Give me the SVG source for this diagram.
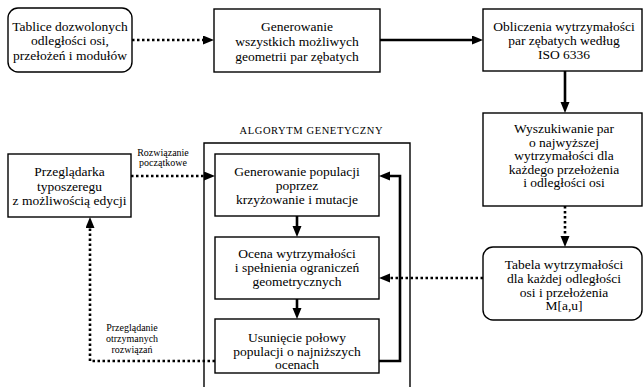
<svg xmlns="http://www.w3.org/2000/svg" width="643" height="387" viewBox="0 0 643 387">
<defs>
<marker id="ah" markerUnits="userSpaceOnUse" markerWidth="12" markerHeight="10" refX="2" refY="4.5" orient="auto">
<path d="M0,0 L11,4.5 L0,9 z" fill="#000"/>
</marker>
</defs>
<rect x="0" y="0" width="643" height="387" fill="#fff"/>

<g id="outer">
<path d="M204,390 V143 H410 V390" fill="none" stroke="#000" stroke-width="1.4"/>
<text x="311" y="134" font-family="Liberation Serif" font-size="10.5" text-anchor="middle" textLength="143" lengthAdjust="spacing">ALGORYTM  GENETYCZNY</text>
</g>

<g font-family="Liberation Serif" font-size="13.5" text-anchor="middle" fill="#000">
<g id="n1">
<rect fill="#fff" stroke="#000" stroke-width="1.4" x="8" y="8" width="124" height="64" rx="10"/>
<text x="70" y="30.5">Tablice dozwolonych</text>
<text x="70" y="45">odległości osi,</text>
<text x="70" y="60">przełożeń i modułów</text>
</g>
<g id="n2">
<rect fill="#fff" stroke="#000" stroke-width="1.4" x="214" y="9" width="166" height="63"/>
<text x="297" y="31">Generowanie</text>
<text x="297" y="46">wszystkich możliwych</text>
<text x="297" y="61">geometrii par zębatych</text>
</g>
<g id="n3">
<rect fill="#fff" stroke="#000" stroke-width="1.4" x="483" y="9" width="159" height="62"/>
<text x="564" y="31">Obliczenia wytrzymałości</text>
<text x="564" y="45">par zębatych według</text>
<text x="564" y="59">ISO 6336</text>
</g>
<g id="n4">
<rect fill="#fff" stroke="#000" stroke-width="1.4" x="483" y="113" width="159" height="93"/>
<text x="564" y="133">Wyszukiwanie par</text>
<text x="564" y="146.5">o najwyższej</text>
<text x="564" y="160">wytrzymałości dla</text>
<text x="564" y="173.5">każdego przełożenia</text>
<text x="564" y="187">i odległości osi</text>
</g>
<g id="n5">
<rect fill="#fff" stroke="#000" stroke-width="1.4" x="483" y="247" width="159" height="73" rx="10"/>
<text x="564" y="269">Tabela wytrzymałości</text>
<text x="564" y="283">dla każdej odległości</text>
<text x="564" y="296.5">osi i przełożenia</text>
<text x="564" y="310">M[a,u]</text>
</g>
<g id="n6">
<rect fill="#fff" stroke="#000" stroke-width="1.4" x="8" y="154" width="123" height="63"/>
<text x="69.5" y="176">Przeglądarka</text>
<text x="69.5" y="190.5">typoszeregu</text>
<text x="69.5" y="205">z możliwością edycji</text>
</g>
<g id="nA">
<rect fill="#fff" stroke="#000" stroke-width="1.4" x="215" y="154" width="164" height="62"/>
<text x="297" y="176">Generowanie populacji</text>
<text x="297" y="190">poprzez</text>
<text x="297" y="203.5">krzyżowanie i mutacje</text>
</g>
<g id="nB">
<rect fill="#fff" stroke="#000" stroke-width="1.4" x="215" y="237" width="164" height="62"/>
<text x="297" y="258">Ocena wytrzymałości</text>
<text x="297" y="271.5">i spełnienia ograniczeń</text>
<text x="297" y="286">geometrycznych</text>
</g>
<g id="nC">
<rect fill="#fff" stroke="#000" stroke-width="1.4" x="215" y="319" width="164" height="54"/>
<text x="297" y="342">Usunięcie połowy</text>
<text x="297" y="355.5">populacji o najniższych</text>
<text x="297" y="369">ocenach</text>
</g>
</g>

<g id="connectors" fill="none" stroke="#000" stroke-width="2.6">
<g stroke-dasharray="2.5 2.5">
<path d="M132,40 H205" marker-end="url(#ah)"/>
<path d="M565,206 V238" marker-end="url(#ah)"/>
<path d="M483,278 H388" marker-end="url(#ah)"/>
<path d="M131,176 H206" marker-end="url(#ah)"/>
<path d="M215,361 H90 V226" marker-end="url(#ah)"/>
</g>
<path d="M380,40 H474" marker-end="url(#ah)"/>
<path d="M565,71 V104" marker-end="url(#ah)"/>
<path d="M297,216 V228" marker-end="url(#ah)"/>
<path d="M297,299 V310" marker-end="url(#ah)"/>
<path d="M379,361 H400 V176 H388" marker-end="url(#ah)"/>
<g font-family="Liberation Serif" font-size="10" text-anchor="middle" fill="#000" stroke="none">
<text x="163" y="155.5">Rozwiązanie</text>
<text x="163" y="166">początkowe</text>
<text x="132" y="331">Przeglądanie</text>
<text x="132" y="342">otrzymanych</text>
<text x="132" y="353">rozwiązań</text>
</g>
</g>
</svg>
